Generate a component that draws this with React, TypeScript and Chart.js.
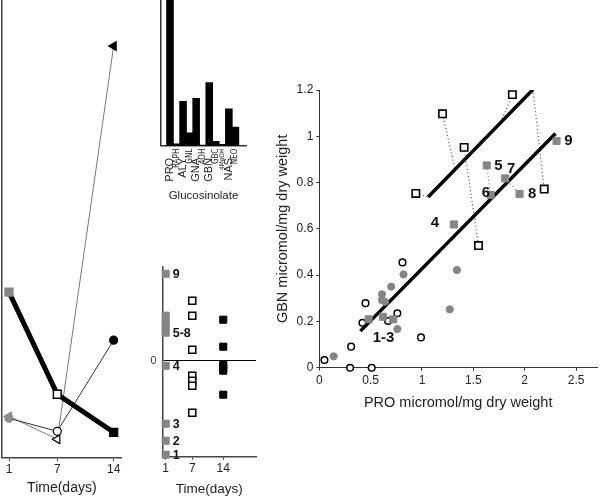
import React, { useEffect, useRef } from 'react';
import { Chart, registerables } from 'chart.js';

Chart.register(...registerables);

const FONT = '"Liberation Sans", Arial, Helvetica, sans-serif';
const NARROW = '"Liberation Sans Narrow", "DejaVu Sans Condensed", "Liberation Sans", Arial, sans-serif';
Chart.defaults.font.family = FONT;
Chart.defaults.color = '#222';

// ---------- Panel A: time course ----------
const timeDays = [1, 7, 14];
const timeTickValues = [1, 7, 14];
const timeTickLabels = ['1', '7', '14'];
const timeSquares = [16.5, 6.3, 2.5];
const timeCircles = [3.9, 2.6, 11.7];
const timeTriangles = [4.1, 1.8, 41.1];

// ---------- Panel B: glucosinolate profile ----------
const glucoNames = ['PRO', 'RAPH', 'ALY', 'GNL', 'GNA', '4OH', 'GBN', 'GBC', '4MeOH', 'NAS', 'NEO'];
const glucoValues = [100, 1.2, 30.4, 8.9, 32.5, 0.5, 43.4, 3.0, 1.0, 25.3, 12.8];

// ---------- Panel C: deviations by day ----------
const dotDay1 = [8.7, 4.5, 3.8, 3.3, 2.8, -0.5, -6.3, -8.0, -9.4];
const dotDay1Labels = ['9', '', '', '', '5-8', '4', '3', '2', '1'];
const dotDay7 = [6.0, 4.5, 1.1, -1.5, -2.0, -2.5, -5.2];
const dotDay14 = [4.1, 1.4, -0.4, -0.7, -1.0, -3.4];
const dotTickValues = [1, 7, 14];
const dotTickLabels = ['1', '7', '14'];
const dotYTickValues = [0];
const dotYTickLabels = ['0'];

// ---------- Panel D: GBN vs PRO ----------
const openSqX = [0.94, 1.2, 1.41, 1.55, 1.88, 2.19];
const openSqY = [0.753, 1.097, 0.952, 0.528, 1.18, 0.772];
const graySqX = [0.48, 0.62, 0.72, 1.31, 1.63, 1.67, 1.81, 1.95, 2.31];
const graySqY = [0.209, 0.22, 0.209, 0.619, 0.874, 0.746, 0.818, 0.751, 0.98];
const graySqLabels = ['', '1-3', '', '4', '5', '6', '7', '8', '9'];
const grayCircX = [0.82, 1.34, 0.7, 0.61, 0.61, 0.64, 1.27, 0.76, 0.14];
const grayCircY = [0.403, 0.422, 0.35, 0.317, 0.292, 0.285, 0.252, 0.167, 0.049];
const openCircX = [0.81, 0.45, 0.42, 0.76, 0.67, 0.99, 0.31, 0.05, 0.3, 0.51];
const openCircY = [0.455, 0.279, 0.194, 0.235, 0.202, 0.131, 0.091, 0.033, 0, 0];
const fitUpperX = [1.06, 2.08];
const fitUpperY = [0.738, 1.202];
const fitLowerX = [0.4, 2.3];
const fitLowerY = [0.158, 1.012];
const residFromX = [0.94, 1.2, 1.41, 1.88, 2.08];
const residFromY = [0.753, 1.097, 0.952, 1.18, 1.202];
const residToX = [1.06, 1.32, 1.55, 1.76, 2.19];
const residToY = [0.738, 0.859, 0.528, 1.054, 0.772];
const residGrayFromX = [1.63, 1.81];
const residGrayFromY = [0.874, 0.818];
const residGrayToX = [1.67, 1.95];
const residGrayToY = [0.746, 0.751];
const scatterXTicks = [0, 0.5, 1, 1.5, 2, 2.5];
const scatterXTickLabels = ['0', '0.5', '1', '1.5', '2', '2.5'];
const scatterYTicks = [0, 0.2, 0.4, 0.6, 0.8, 1, 1.2];
const scatterYTickLabels = ['0', '0.2', '0.4', '0.6', '0.8', '1', '1.2'];

const GRAY = '#858585';

const setTicks = (vals: number[]) => (s: any) => {
  s.ticks = vals.map((v) => ({ value: v }));
};
const fixHeight = (h: number) => (s: any) => {
  s.height = h;
  s.paddingLeft = 0;
  s.paddingRight = 0;
};
const fixWidth = (w: number) => (s: any) => {
  s.width = w;
  s.paddingTop = 0;
  s.paddingBottom = 0;
};

function textPlugin(items: { ds: number; labels: string[]; offsets: number[][]; font: string; align: CanvasTextAlign }[]) {
  return {
    id: 'pointText',
    afterDatasetsDraw(chart: any) {
      const ctx = chart.ctx;
      ctx.save();
      items.forEach((it) => {
        const meta = chart.getDatasetMeta(it.ds);
        ctx.font = it.font;
        ctx.fillStyle = '#111';
        ctx.textAlign = it.align;
        ctx.textBaseline = 'middle';
        it.labels.forEach((t, i) => {
          if (!t) return;
          const el = meta.data[i];
          const off = it.offsets[i] || [0, 0];
          ctx.fillText(t, el.x + off[0], el.y + off[1]);
        });
      });
      ctx.restore();
    },
  };
}

const common = {
  animation: false,
  responsive: false,
  events: [],
  plugins: { legend: { display: false }, tooltip: { enabled: false } },
};

function configA(): any {
  const pts = (ys: number[]) => timeDays.map((d, i) => ({ x: d, y: ys[i] }));
  return {
    type: 'line',
    data: {
      datasets: [
        {
          data: pts(timeSquares),
          borderColor: '#000',
          borderWidth: 5,
          pointStyle: 'rect',
          pointRadius: 5.5,
          pointBackgroundColor: [GRAY, '#fff', '#000'],
          pointBorderColor: [GRAY, '#000', '#000'],
          pointBorderWidth: 1.5,
        },
        {
          data: pts(timeCircles),
          borderColor: '#333',
          borderWidth: 1,
          pointStyle: 'circle',
          pointRadius: 4,
          pointBackgroundColor: ['#8c8c8c', '#fff', '#000'],
          pointBorderColor: ['#8c8c8c', '#000', '#000'],
          pointBorderWidth: 1.2,
        },
        {
          data: pts(timeTriangles),
          borderColor: '#777',
          borderWidth: 1,
          pointStyle: 'triangle',
          pointRotation: -90,
          pointRadius: 5,
          pointBackgroundColor: ['#8c8c8c', '#fff', '#000'],
          pointBorderColor: ['#8c8c8c', '#000', '#000'],
          pointBorderWidth: 1.2,
        },
      ],
    },
    options: {
      ...common,
      layout: { autoPadding: false, padding: { left: 0, top: 0, right: 28.3, bottom: 0 } },
      scales: {
        x: {
          type: 'linear',
          min: 0.13,
          max: 15,
          afterBuildTicks: setTicks(timeTickValues),
          afterFit: fixHeight(41.7),
          grid: { drawOnChartArea: false, tickLength: 4, color: '#444' },
          border: { color: '#444', width: 1.5 },
          ticks: { padding: 1, color: '#222', font: { size: 12 }, maxRotation: 0, autoSkip: false, callback: (_v: any, i: number) => timeTickLabels[i] },
          title: { display: true, text: 'Time(days)', font: { size: 14 }, color: '#222', padding: { top: 0, bottom: 2.6 } },
        },
        y: {
          min: 0,
          max: 45.7,
          afterFit: fixWidth(2),
          ticks: { display: false },
          grid: { display: false },
          border: { color: '#444', width: 1.5 },
        },
      },
    },
  };
}

function configB(): any {
  const large = [0, 2, 4, 6, 9];
  return {
    type: 'bar',
    data: {
      datasets: [
        {
          data: glucoValues.map((v, i) => ({ x: i, y: v })),
          backgroundColor: '#000',
          barThickness: 6.9,
        },
      ],
    },
    options: {
      ...common,
      layout: { autoPadding: false, padding: { left: 0, top: 0, right: 14, bottom: 0 } },
      scales: {
        x: {
          type: 'linear',
          min: -0.786,
          max: 11.03,
          afterBuildTicks: setTicks(glucoNames.map((_n, i) => i)),
          afterFit: fixHeight(66.3),
          grid: { display: false, drawTicks: false },
          border: { color: '#333', width: 1.5 },
          ticks: {
            autoSkip: false,
            minRotation: 90,
            maxRotation: 90,
            padding: 3,
            color: '#222',
            font: (c: any) =>
              large.includes(c.index)
                ? { size: 11, family: FONT }
                : { size: c.index === 8 ? 6.5 : 8, family: NARROW },
            callback: (_v: any, i: number) => (large.includes(i) ? glucoNames[i] + '   ' : glucoNames[i]),
          },
          title: { display: true, text: 'Glucosinolate', font: { size: 11.5 }, color: '#222', padding: { top: 0, bottom: 9 } },
        },
        y: {
          min: 0,
          max: 100,
          afterFit: fixWidth(11),
          ticks: { display: false },
          grid: { display: false },
          border: { color: '#333', width: 1.5 },
        },
      },
    },
  };
}

function configC(): any {
  return {
    type: 'scatter',
    data: {
      datasets: [
        {
          data: dotDay1.map((v) => ({ x: 1, y: v })),
          pointStyle: 'rect',
          pointRadius: 5,
          backgroundColor: GRAY,
          borderColor: GRAY,
          clip: false,
        },
        {
          data: dotDay7.map((v) => ({ x: 7, y: v })),
          pointStyle: 'rect',
          pointRadius: 5,
          backgroundColor: '#fff',
          borderColor: '#000',
          borderWidth: 1.5,
          clip: false,
        },
        {
          data: dotDay14.map((v) => ({ x: 14, y: v })),
          pointStyle: 'rect',
          pointRadius: 5,
          backgroundColor: '#000',
          borderColor: '#000',
          clip: false,
        },
      ],
    },
    options: {
      ...common,
      layout: { autoPadding: false, padding: { left: 0, top: 11.7, right: 14, bottom: 0 } },
      scales: {
        x: {
          type: 'linear',
          min: 0.23,
          max: 21.4,
          afterBuildTicks: setTicks(dotTickValues),
          afterFit: fixHeight(42.3),
          grid: { drawOnChartArea: false, tickLength: 3, color: '#444' },
          border: { color: '#444', width: 1.5 },
          ticks: { padding: 2, color: '#222', font: { size: 12 }, maxRotation: 0, autoSkip: false, callback: (_v: any, i: number) => dotTickLabels[i] },
          title: { display: true, text: 'Time(days)', font: { size: 13.5 }, color: '#222', padding: { top: 0, bottom: 1.9 } },
        },
        y: {
          min: -9.6,
          max: 9.4,
          afterBuildTicks: setTicks(dotYTickValues),
          afterFit: fixWidth(12.3),
          grid: { color: '#000', lineWidth: 1, drawTicks: false },
          border: { color: '#444', width: 1.5 },
          ticks: { padding: 6, color: '#333', font: { size: 10.5 }, callback: (_v: any, i: number) => dotYTickLabels[i] },
        },
      },
    },
    plugins: [
      textPlugin([
        { ds: 0, labels: dotDay1Labels, offsets: dotDay1Labels.map(() => [7, 1]), font: `bold 12.5px ${FONT}`, align: 'left' },
      ]),
    ],
  };
}

function configD(): any {
  const xy = (xs: number[], ys: number[]) => xs.map((x, i) => ({ x, y: ys[i] }));
  const seg = (fx: number[], fy: number[], tx: number[], ty: number[], color: string) =>
    fx.map((_x, i) => ({
      data: [
        { x: fx[i], y: fy[i] },
        { x: tx[i], y: ty[i] },
      ],
      showLine: true,
      borderColor: color,
      borderWidth: 1.2,
      borderDash: [1.2, 2.4],
      pointRadius: 0,
    }));
  return {
    type: 'scatter',
    data: {
      datasets: [
        {
          data: xy(openSqX, openSqY),
          pointStyle: 'rect',
          pointRadius: 5.2,
          backgroundColor: '#fff',
          borderColor: '#000',
          borderWidth: 1.6,
          clip: false,
        },
        {
          data: xy(graySqX, graySqY),
          pointStyle: 'rect',
          pointRadius: 5,
          backgroundColor: GRAY,
          borderColor: GRAY,
          clip: false,
        },
        {
          data: xy(grayCircX, grayCircY),
          pointStyle: 'circle',
          pointRadius: 3.6,
          backgroundColor: GRAY,
          borderColor: GRAY,
          clip: false,
        },
        {
          data: xy(openCircX, openCircY),
          pointStyle: 'circle',
          pointRadius: 3.3,
          backgroundColor: '#fff',
          borderColor: '#000',
          borderWidth: 1.5,
          clip: false,
        },
        {
          data: xy(fitUpperX, fitUpperY),
          showLine: true,
          borderColor: '#000',
          borderWidth: 3.5,
          pointRadius: 0,
        },
        {
          data: xy(fitLowerX, fitLowerY),
          showLine: true,
          borderColor: '#000',
          borderWidth: 3.5,
          pointRadius: 0,
        },
        ...seg(residFromX, residFromY, residToX, residToY, '#666'),
        ...seg(residGrayFromX, residGrayFromY, residGrayToX, residGrayToY, '#888'),
      ],
    },
    options: {
      ...common,
      layout: { autoPadding: false, padding: { left: 0, top: 30, right: 3, bottom: 0 } },
      scales: {
        x: {
          type: 'linear',
          min: 0,
          max: 2.704,
          afterBuildTicks: setTicks(scatterXTicks),
          afterFit: fixHeight(72.3),
          grid: { drawOnChartArea: false, tickLength: 3, color: '#333' },
          border: { color: '#333', width: 1 },
          ticks: { padding: 3, color: '#222', font: { size: 12 }, maxRotation: 0, autoSkip: false, callback: (_v: any, i: number) => scatterXTickLabels[i] },
          title: { display: true, text: 'PRO micromol/mg dry weight', font: { size: 14.5 }, color: '#222', padding: { top: 0, bottom: 28.3 } },
        },
        y: {
          min: 0,
          max: 1.2,
          afterBuildTicks: setTicks(scatterYTicks),
          afterFit: fixWidth(59.3),
          grid: { drawOnChartArea: false, tickLength: 3, color: '#333' },
          border: { color: '#333', width: 1 },
          ticks: { padding: 3, color: '#222', font: { size: 12 }, callback: (_v: any, i: number) => scatterYTickLabels[i] },
          title: { display: true, text: 'GBN micromol/mg dry weight', font: { size: 14.5 }, color: '#222', padding: { top: 14.3, bottom: 0 } },
        },
      },
    },
    plugins: [
      textPlugin([
        {
          ds: 1,
          labels: graySqLabels,
          offsets: [[0, 0], [0.6, 21], [0, 0], [-19, -1.6], [11.7, 0.7], [-5, -2], [6, -10], [12.7, 0], [12, 0]],
          font: `bold 15px ${FONT}`,
          align: 'center',
        },
      ]),
    ],
  };
}

function Panel({ left, top, width, height, make }: { left: number; top: number; width: number; height: number; make: () => any }) {
  const ref = useRef<HTMLCanvasElement | null>(null);
  useEffect(() => {
    if (!ref.current) return;
    const chart = new Chart(ref.current, make());
    return () => chart.destroy();
  }, []);
  return <canvas ref={ref} width={width} height={height} style={{ position: 'absolute', left, top, width, height, display: 'block' }} />;
}

export default function App() {
  return (
    <div style={{ position: 'fixed', left: 0, top: 0, width: 600, height: 499, background: '#fff', overflow: 'hidden' }}>
      <Panel left={0} top={0} width={150} height={499} make={configA} />
      <Panel left={150} top={0} width={110} height={212} make={configB} />
      <Panel left={150} top={255} width={120} height={244} make={configC} />
      <Panel left={260} top={60} width={340} height={380} make={configD} />
    </div>
  );
}
